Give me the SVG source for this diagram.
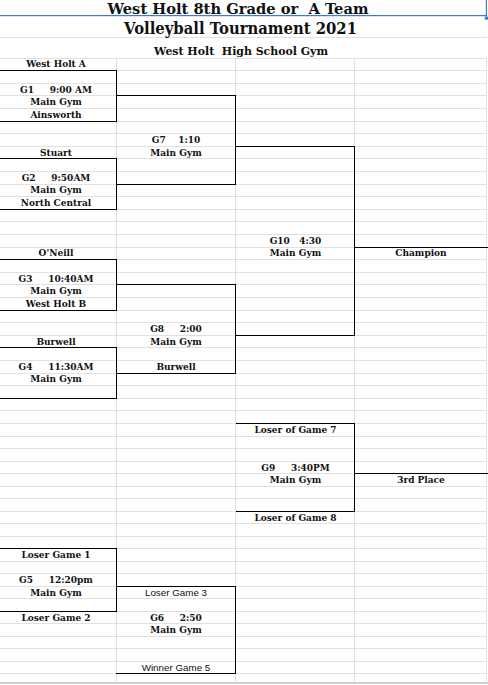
<svg xmlns="http://www.w3.org/2000/svg" width="488" height="685" viewBox="0 0 488 685">
<style>
.grid line{stroke:#e0e0e0;stroke-width:1;shape-rendering:crispEdges}
.br{fill:none;stroke:#000;stroke-width:1;shape-rendering:crispEdges}
.t{font-family:"DejaVu Serif","Liberation Serif",serif;font-weight:bold;font-size:9px;fill:#111;text-anchor:middle}
.s{font-family:"Liberation Sans",Arial,sans-serif;font-size:9.8px;fill:#111;text-anchor:middle}
.h{font-family:"DejaVu Serif","Liberation Serif",serif;font-weight:bold;fill:#111;text-anchor:middle}
</style>
<rect width="488" height="685" fill="#fff"/>
<g class="grid">
<line x1="0" y1="37" x2="487" y2="37"/>
<line x1="0" y1="58" x2="487" y2="58"/><line x1="0" y1="70.6" x2="487" y2="70.6"/><line x1="0" y1="83.2" x2="487" y2="83.2"/><line x1="0" y1="95.8" x2="487" y2="95.8"/><line x1="0" y1="108.4" x2="487" y2="108.4"/><line x1="0" y1="121" x2="487" y2="121"/><line x1="0" y1="133.6" x2="487" y2="133.6"/><line x1="0" y1="146.2" x2="487" y2="146.2"/><line x1="0" y1="158.8" x2="487" y2="158.8"/><line x1="0" y1="171.4" x2="487" y2="171.4"/><line x1="0" y1="184" x2="487" y2="184"/><line x1="0" y1="196.6" x2="487" y2="196.6"/><line x1="0" y1="209.2" x2="487" y2="209.2"/><line x1="0" y1="221.8" x2="487" y2="221.8"/><line x1="0" y1="234.4" x2="487" y2="234.4"/><line x1="0" y1="247" x2="487" y2="247"/><line x1="0" y1="259.6" x2="487" y2="259.6"/><line x1="0" y1="272.2" x2="487" y2="272.2"/><line x1="0" y1="284.8" x2="487" y2="284.8"/><line x1="0" y1="297.4" x2="487" y2="297.4"/><line x1="0" y1="310" x2="487" y2="310"/><line x1="0" y1="322.6" x2="487" y2="322.6"/><line x1="0" y1="335.2" x2="487" y2="335.2"/><line x1="0" y1="347.8" x2="487" y2="347.8"/><line x1="0" y1="360.4" x2="487" y2="360.4"/><line x1="0" y1="373" x2="487" y2="373"/><line x1="0" y1="385.6" x2="487" y2="385.6"/><line x1="0" y1="398.2" x2="487" y2="398.2"/><line x1="0" y1="410.8" x2="487" y2="410.8"/><line x1="0" y1="423.4" x2="487" y2="423.4"/><line x1="0" y1="436" x2="487" y2="436"/><line x1="0" y1="448.6" x2="487" y2="448.6"/><line x1="0" y1="461.2" x2="487" y2="461.2"/><line x1="0" y1="473.7" x2="487" y2="473.7"/><line x1="0" y1="486.2" x2="487" y2="486.2"/><line x1="0" y1="498.7" x2="487" y2="498.7"/><line x1="0" y1="511.2" x2="487" y2="511.2"/><line x1="0" y1="523.7" x2="487" y2="523.7"/><line x1="0" y1="536.2" x2="487" y2="536.2"/><line x1="0" y1="548.7" x2="487" y2="548.7"/><line x1="0" y1="561.2" x2="487" y2="561.2"/><line x1="0" y1="573.7" x2="487" y2="573.7"/><line x1="0" y1="586.2" x2="487" y2="586.2"/><line x1="0" y1="598.7" x2="487" y2="598.7"/><line x1="0" y1="611.2" x2="487" y2="611.2"/><line x1="0" y1="623.7" x2="487" y2="623.7"/><line x1="0" y1="636.2" x2="487" y2="636.2"/><line x1="0" y1="648.7" x2="487" y2="648.7"/><line x1="0" y1="661.2" x2="487" y2="661.2"/><line x1="0" y1="673.7" x2="487" y2="673.7"/>
<line x1="116.3" y1="58" x2="116.3" y2="682"/><line x1="235.5" y1="58" x2="235.5" y2="682"/><line x1="354.7" y1="58" x2="354.7" y2="682"/><line x1="486.7" y1="58" x2="486.7" y2="682"/>
<line x1="0" y1="682.5" x2="488" y2="682.5" style="stroke:#cfcfcf;stroke-width:2"/>
</g>
<g id="selection" fill="#3a7bd5">
<rect x="0" y="15" width="486" height="1.2"/>
<rect x="485.8" y="0" width="1.2" height="16"/>
<rect x="484.8" y="16.5" width="3.2" height="3.2"/>
</g>
<g id="title">
<text class="h" x="238" y="13.6" font-size="14.5" textLength="261" lengthAdjust="spacingAndGlyphs" xml:space="preserve">West Holt 8th Grade or  A Team</text>
<text class="h" x="240.5" y="34.3" font-size="16" textLength="233" lengthAdjust="spacingAndGlyphs">Volleyball Tournament 2021</text>
<text class="h" x="241" y="55" font-size="11.5" textLength="174" lengthAdjust="spacingAndGlyphs" xml:space="preserve">West Holt  High School Gym</text>
</g>
<g id="connectors">
<path class="br" d="M116.3,95.8H235.5M116.3,184H235.5M235.5,146.2H354.7M116.3,284.8H235.5M116.3,373H235.5M235.5,335.2H354.7M354.7,247H488M354.7,473.7H488M116.3,586.2H235.5"/>
</g>
<g id="g1">
<path class="br" d="M0,70.6H116.3V121H0"/>
<text class="t" x="56" y="67.3">West Holt A</text>
<text class="t" x="56" y="92.5" xml:space="preserve">G1     9:00 AM</text>
<text class="t" x="56" y="105.1">Main Gym</text>
<text class="t" x="56" y="117.7">Ainsworth</text>
</g>
<g id="g2">
<path class="br" d="M0,158.8H116.3V209.2H0"/>
<text class="t" x="56" y="155.5">Stuart</text>
<text class="t" x="56" y="180.7" xml:space="preserve">G2     9:50AM</text>
<text class="t" x="56" y="193.3">Main Gym</text>
<text class="t" x="56" y="205.9">North Central</text>
</g>
<g id="g3">
<path class="br" d="M0,259.6H116.3V310H0"/>
<text class="t" x="56" y="256.3">O'Neill</text>
<text class="t" x="56" y="281.5" xml:space="preserve">G3     10:40AM</text>
<text class="t" x="56" y="294.1">Main Gym</text>
<text class="t" x="56" y="306.7">West Holt B</text>
</g>
<g id="g4">
<path class="br" d="M0,347.8H116.3V398.2H0"/>
<text class="t" x="56" y="344.5">Burwell</text>
<text class="t" x="56" y="369.7" xml:space="preserve">G4     11:30AM</text>
<text class="t" x="56" y="382.3">Main Gym</text>
</g>
<g id="g5">
<path class="br" d="M0,548.7H116.3V611.2H0"/>
<text class="t" x="56" y="558">Loser Game 1</text>
<text class="t" x="56" y="583" xml:space="preserve">G5     12:20pm</text>
<text class="t" x="56" y="595.5">Main Gym</text>
<text class="t" x="56" y="620.5">Loser Game 2</text>
</g>
<g id="g7">
<path class="br" d="M235.5,95.8V184"/>
<text class="t" x="176" y="142.9" xml:space="preserve">G7    1:10</text>
<text class="t" x="176" y="155.5">Main Gym</text>
</g>
<g id="g8">
<path class="br" d="M235.5,284.8V373"/>
<text class="t" x="176" y="331.9" xml:space="preserve">G8     2:00</text>
<text class="t" x="176" y="344.5">Main Gym</text>
<text class="t" x="176" y="369.7">Burwell</text>
</g>
<g id="g6">
<path class="br" d="M235.5,586.2V673.7H116.3"/>
<text class="s" x="176" y="595.8">Loser Game 3</text>
<text class="t" x="176" y="620.5" xml:space="preserve">G6     2:50</text>
<text class="t" x="176" y="633">Main Gym</text>
<text class="s" x="176" y="670.8">Winner Game 5</text>
</g>
<g id="g10">
<path class="br" d="M354.7,146.2V335.2"/>
<text class="t" x="295.5" y="243.7" xml:space="preserve">G10   4:30</text>
<text class="t" x="295.5" y="256.3">Main Gym</text>
</g>
<g id="g9">
<path class="br" d="M235.5,423.4H354.7V511.2H235.5"/>
<text class="t" x="295.5" y="432.7">Loser of Game 7</text>
<text class="t" x="295.5" y="470.5" xml:space="preserve">G9     3:40PM</text>
<text class="t" x="295.5" y="483">Main Gym</text>
<text class="t" x="295.5" y="520.5">Loser of Game 8</text>
</g>
<g id="champion">
<text class="t" x="421" y="256.3">Champion</text>
</g>
<g id="third">
<text class="t" x="421" y="483">3rd Place</text>
</g>
</svg>
